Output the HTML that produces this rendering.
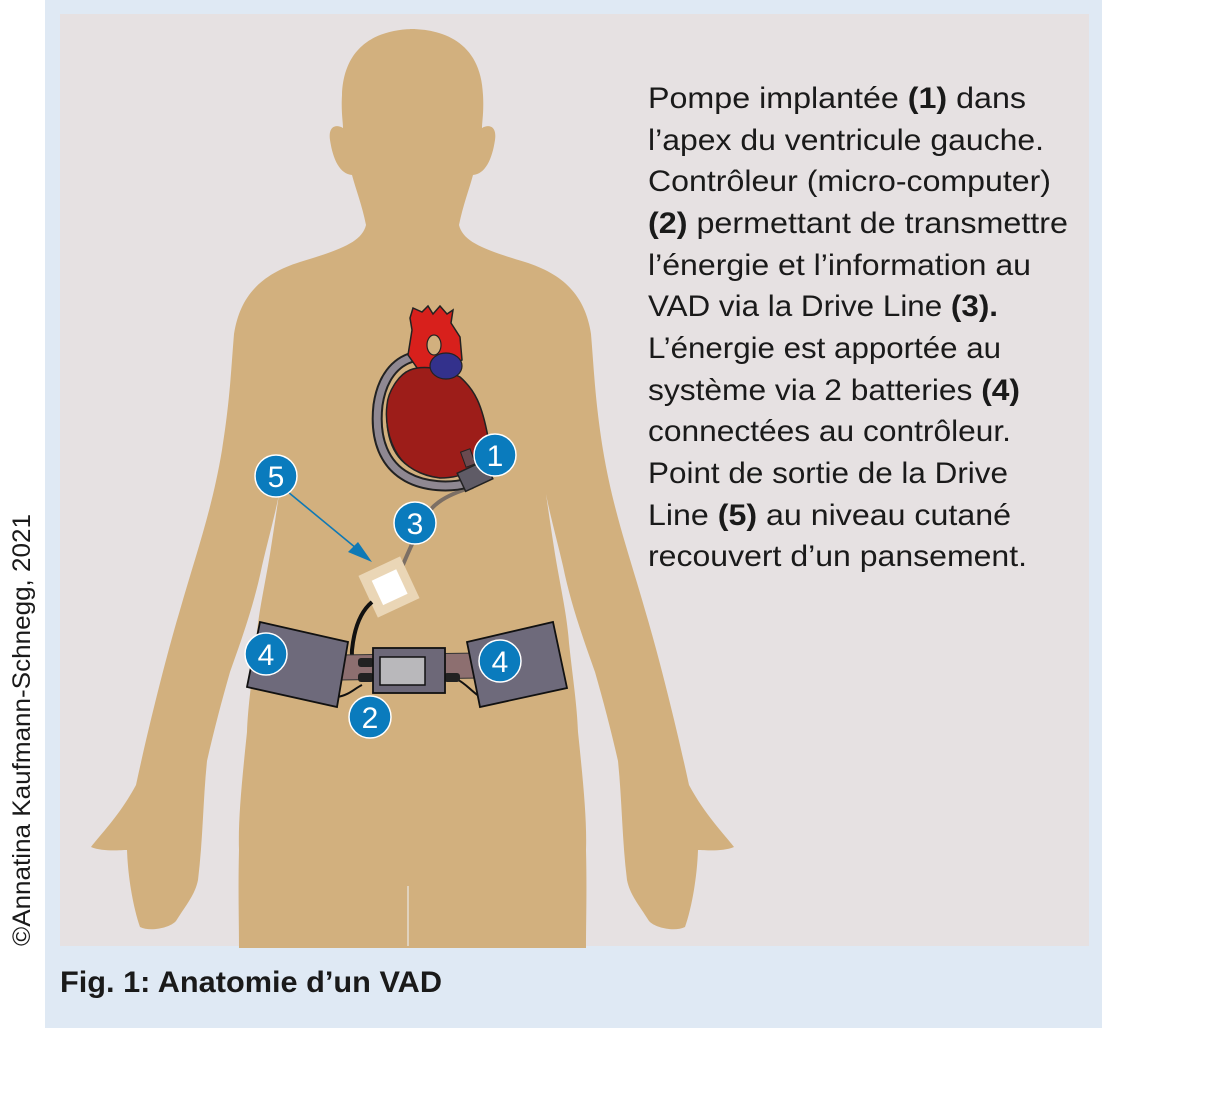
<!DOCTYPE html>
<html><head><meta charset="utf-8"><style>
html,body{margin:0;padding:0;background:#fff;}
svg{display:block;}
text{font-family:"Liberation Sans",sans-serif;}
</style></head><body>
<svg width="1224" height="1093" viewBox="0 0 1224 1093" xmlns="http://www.w3.org/2000/svg">
<rect x="0" y="0" width="1224" height="1093" fill="#ffffff"/>
<rect x="45" y="0" width="1057" height="1028" fill="#dfe9f4"/>
<rect x="60" y="14" width="1029" height="932" fill="#e6e1e2"/>
<!-- body -->
<g fill="#d2b07e">
<path id="half" d="M415,29 C385,29 344,40 342,95 C341,112 343,122 343,128 C336,124 328,126 330,140 C333,160 340,174 352,175 C356,190 362,205 366,225 C362,242 340,250 300,262 C262,274 240,295 234,334 C231,370 230,400 222,450 C212,510 196,554 180,610 C168,650 150,720 136,785 C120,815 100,835 91,847 C103,852 120,850 127,850 C128,880 134,910 140,927 C150,932 170,928 176,921 C186,905 195,895 198,880 C203,840 203,800 207,761 C214,730 222,700 230,672 C245,630 255,600 262,566 C268,540 275,515 279,494 C276,515 273,535 270,554 C264,590 258,615 256,643 C252,680 248,705 247,732 C242,780 238,820 239,850 C238,890 239,920 239,948 L415,948 Z"/>
<use href="#half" transform="translate(825,0) scale(-1,1)"/>
</g>
<line x1="408" y1="886" x2="408" y2="946" stroke="#e0d2bd" stroke-width="2"/>
<!-- drive line -->
<path d="M473,487 C445,495 428,505 418,530 C410,550 404,560 398,578" fill="none" stroke="#7c6f64" stroke-width="4"/>
<!-- tube behind heart -->
<path d="M413,357 C395,362 382,378 378,405 C374,440 385,465 407,477 C425,487 450,488 468,483" fill="none" stroke="#222" stroke-width="11" stroke-linecap="round"/>
<path d="M413,357 C395,362 382,378 378,405 C374,440 385,465 407,477 C425,487 450,488 468,483" fill="none" stroke="#8f8892" stroke-width="7" stroke-linecap="round"/>
<!-- aorta -->
<path d="M408,355 L412,330 L410,318 L413,308 L422,312 L428,306 L433,314 L440,306 L447,314 L453,310 L451,323 L460,337 L462,360 L440,375 L420,372 Z" fill="#d8201c" stroke="#222" stroke-width="1.5"/>
<ellipse cx="434" cy="345" rx="7" ry="10" fill="#d2b07e" stroke="#222" stroke-width="1.2"/>
<!-- heart body -->
<path d="M410,370 C420,366 440,366 460,377 C475,390 482,405 488,437 C488,455 482,465 473,470 C462,476 450,478 440,478 C420,476 405,466 398,455 C388,440 385,420 387,405 C388,392 398,375 410,370 Z" fill="#9d1d19" stroke="#222" stroke-width="1.5"/>
<ellipse cx="446" cy="366" rx="16" ry="13" fill="#33318c" stroke="#222" stroke-width="1.2"/>
<!-- inner tube over heart -->
<path d="M387,425 C390,455 405,472 440,478" fill="none" stroke="#222" stroke-width="1.2"/>
<!-- pump -->
<rect x="463" y="450" width="10" height="16" fill="#6a4a50" stroke="#222" stroke-width="1" transform="rotate(-20 468 458)"/>
<rect x="460" y="466" width="30" height="20" fill="#5f5b66" stroke="#222" stroke-width="1.5" transform="rotate(-25 475 476)"/>
<!-- dressing -->
<rect x="366" y="564" width="46" height="46" fill="#ead6b6" transform="rotate(-25 389 587)"/>
<rect x="376" y="574" width="27" height="27" fill="#ffffff" transform="rotate(-25 389 587)"/>
<!-- black cable -->
<path d="M372,602 C360,612 354,630 352,650 C351,665 356,672 370,675" fill="none" stroke="#111" stroke-width="4"/>
<!-- belt -->
<path d="M340,655 L480,653 L482,678 L340,680 Z" fill="#8d6f70" stroke="#333" stroke-width="1"/>
<!-- side cables -->
<path d="M337,697 C350,695 355,688 362,685" fill="none" stroke="#111" stroke-width="2"/>
<path d="M480,697 C470,690 465,683 458,680" fill="none" stroke="#111" stroke-width="2"/>
<rect x="358" y="658" width="16" height="9" rx="3" fill="#222"/>
<rect x="358" y="673" width="16" height="9" rx="3" fill="#222"/>
<rect x="444" y="673" width="16" height="9" rx="3" fill="#222"/>
<!-- batteries -->
<polygon points="260,622 348,642 337,707 247,687" fill="#6e6a7b" stroke="#111" stroke-width="1.8"/>
<polygon points="467,642 553,622 567,688 480,707" fill="#6e6a7b" stroke="#111" stroke-width="1.8"/>
<!-- controller -->
<rect x="373" y="648" width="72" height="45" fill="#6d6878" stroke="#111" stroke-width="1.8"/>
<rect x="380" y="657" width="45" height="28" fill="#b9b8bb" stroke="#111" stroke-width="1.5"/>
<!-- arrow 5 -->
<line x1="288" y1="492" x2="362" y2="553" stroke="#0f79b5" stroke-width="1.6"/>
<polygon points="372,562 348,552 358,542" fill="#0f79b5"/>
<!-- badges -->
<g fill="#0a7bbd" stroke="#ffffff" stroke-width="1.5">
<circle cx="495" cy="455" r="21"/>
<circle cx="276" cy="476" r="21"/>
<circle cx="415" cy="523" r="21"/>
<circle cx="266" cy="654" r="21"/>
<circle cx="500" cy="661" r="21"/>
<circle cx="370" cy="717" r="21"/>
</g>
<g fill="#ffffff" font-size="30" text-anchor="middle">
<text x="495" y="466">1</text>
<text x="276" y="487">5</text>
<text x="415" y="534">3</text>
<text x="266" y="665">4</text>
<text x="500" y="672">4</text>
<text x="370" y="728">2</text>
</g>
<!-- description -->
<g font-size="30" fill="#1a1a1a" lengthAdjust="spacingAndGlyphs">
<text x="648" y="108" textLength="378" lengthAdjust="spacingAndGlyphs">Pompe implantée <tspan font-weight="bold">(1)</tspan> dans</text>
<text x="648" y="150" textLength="396" lengthAdjust="spacingAndGlyphs">l’apex du ventricule gauche.</text>
<text x="648" y="191" textLength="403" lengthAdjust="spacingAndGlyphs">Contrôleur (micro-computer)</text>
<text x="648" y="233" textLength="420" lengthAdjust="spacingAndGlyphs"><tspan font-weight="bold">(2)</tspan> permettant de transmettre</text>
<text x="648" y="275" textLength="383" lengthAdjust="spacingAndGlyphs">l’énergie et l’information au</text>
<text x="648" y="316" textLength="350" lengthAdjust="spacingAndGlyphs">VAD via la Drive Line <tspan font-weight="bold">(3).</tspan></text>
<text x="648" y="358" textLength="353" lengthAdjust="spacingAndGlyphs">L’énergie est apportée au</text>
<text x="648" y="400" textLength="372" lengthAdjust="spacingAndGlyphs">système via 2 batteries <tspan font-weight="bold">(4)</tspan></text>
<text x="648" y="441" textLength="363" lengthAdjust="spacingAndGlyphs">connectées au contrôleur.</text>
<text x="648" y="483" textLength="360" lengthAdjust="spacingAndGlyphs">Point de sortie de la Drive</text>
<text x="648" y="525" textLength="363" lengthAdjust="spacingAndGlyphs">Line <tspan font-weight="bold">(5)</tspan> au niveau cutané</text>
<text x="648" y="566" textLength="379" lengthAdjust="spacingAndGlyphs">recouvert d’un pansement.</text>
</g>
<text x="60" y="992" font-size="30" font-weight="bold" fill="#1a1a1a" textLength="382" lengthAdjust="spacingAndGlyphs">Fig. 1: Anatomie d’un VAD</text>
<text transform="translate(30,946) rotate(-90)" font-size="25" fill="#1a1a1a" textLength="432" lengthAdjust="spacingAndGlyphs">©Annatina Kaufmann-Schnegg, 2021</text>
</svg>
</body></html>
